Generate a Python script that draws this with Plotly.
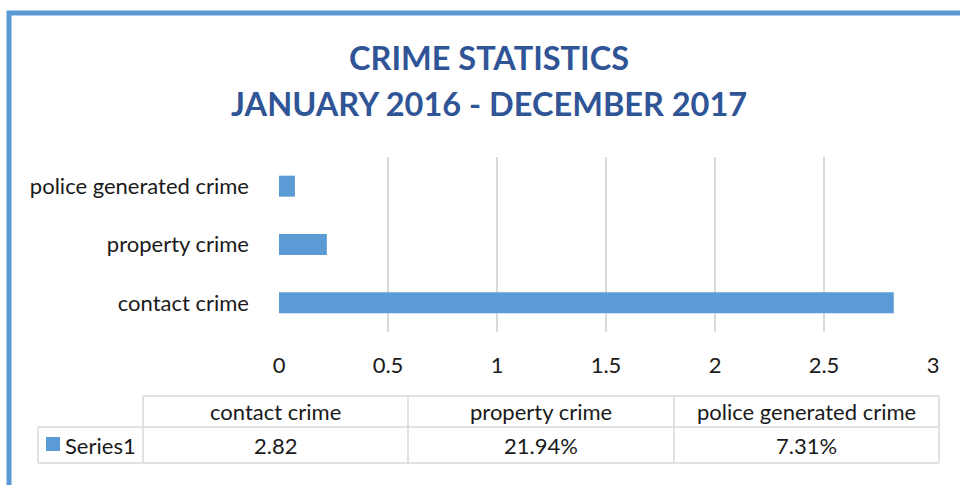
import plotly.graph_objects as go

# ---- data ----
categories = ["contact crime", "property crime", "police generated crime"]
values = [2.82, 0.2194, 0.0731]
value_labels = ["2.82", "21.94%", "7.31%"]
series_name = "Series1"
x_ticks = [0, 0.5, 1, 1.5, 2, 2.5, 3]
x_tick_labels = ["0", "0.5", "1", "1.5", "2", "2.5", "3"]
title_lines = ["CRIME STATISTICS", "JANUARY 2016 - DECEMBER 2017"]

BLUE = "#5B9BD5"
TITLE_BLUE = "#2F5597"
GRID = "#D9D9D9"
TXT = "#1a1a1a"
FONT = "Lato"
FS = 22

W, H = 960, 485
L, R, T, B = 279, 933, 157, 332  # plot area in pixels


def px(x):
    return (x - L) / (R - L)


def py(y):
    return (B - y) / (B - T)


fig = go.Figure(go.Bar(
    y=categories, x=values, orientation="h", name=series_name,
    marker=dict(color=BLUE, line=dict(width=0)),
))

shapes = []
annotations = []

# outer border (top + left)
shapes.append(dict(type="path", xref="paper", yref="paper",
                   path=f"M {px(9)},{py(500)} L {px(9)},{py(13)} L {px(970)},{py(13)}",
                   line=dict(color=BLUE, width=5)))

# title
for i, (line, yc) in enumerate(zip(title_lines, [57, 103])):
    annotations.append(dict(text=f"<b>{line}</b>", xref="paper", yref="paper",
                            x=px(489), y=py(yc), xanchor="center", yanchor="middle",
                            showarrow=False, font=dict(family=FONT, size=32.5, color=TITLE_BLUE)))

# data table
col_edges = [143, 408, 674, 939]
row_top, row_mid, row_bot = 396, 427, 463
left_edge = 38
line_style = dict(color=GRID, width=1.5)
# horizontal lines
shapes.append(dict(type="line", xref="paper", yref="paper", x0=px(col_edges[0]), x1=px(col_edges[-1]),
                   y0=py(row_top), y1=py(row_top), line=line_style))
for yy in (row_mid, row_bot):
    shapes.append(dict(type="line", xref="paper", yref="paper", x0=px(left_edge), x1=px(col_edges[-1]),
                       y0=py(yy), y1=py(yy), line=line_style))
# vertical lines
shapes.append(dict(type="line", xref="paper", yref="paper", x0=px(left_edge), x1=px(left_edge),
                   y0=py(row_mid), y1=py(row_bot), line=line_style))
for xx in col_edges:
    shapes.append(dict(type="line", xref="paper", yref="paper", x0=px(xx), x1=px(xx),
                       y0=py(row_top), y1=py(row_bot), line=line_style))
# legend key
shapes.append(dict(type="rect", xref="paper", yref="paper", x0=px(46), x1=px(60),
                   y0=py(451), y1=py(437), fillcolor=BLUE, line=dict(width=0)))
annotations.append(dict(text=series_name, xref="paper", yref="paper", x=px(63), y=py(445),
                        xanchor="left", yanchor="middle", showarrow=False,
                        font=dict(family=FONT, size=FS, color=TXT)))
for i, (cat, lab) in enumerate(zip(categories, value_labels)):
    xc = (col_edges[i] + col_edges[i + 1]) / 2
    annotations.append(dict(text=cat, xref="paper", yref="paper", x=px(xc), y=py(411),
                            xanchor="center", yanchor="middle", showarrow=False,
                            font=dict(family=FONT, size=FS, color=TXT)))
    annotations.append(dict(text=lab, xref="paper", yref="paper", x=px(xc), y=py(445),
                            xanchor="center", yanchor="middle", showarrow=False,
                            font=dict(family=FONT, size=FS, color=TXT)))

fig.update_layout(
    width=W, height=H,
    margin=dict(l=L, r=W - R, t=T, b=H - B, pad=0),
    paper_bgcolor="white", plot_bgcolor="white",
    showlegend=False,
    bargap=0.64,
    font=dict(family=FONT, size=FS, color=TXT),
    shapes=shapes, annotations=annotations,
    xaxis=dict(range=[0, 3], tickvals=x_ticks, ticktext=x_tick_labels,
               showgrid=True, gridcolor=GRID, gridwidth=1.5, zeroline=False,
               showline=False, ticks="", ticklabelstandoff=18,
               tickfont=dict(family=FONT, size=FS, color=TXT), fixedrange=True),
    yaxis=dict(range=[-0.5, 2.5], showgrid=False, zeroline=False, showline=False,
               ticks="", ticklabelstandoff=29, categoryorder="array", categoryarray=categories,
               tickfont=dict(family=FONT, size=FS, color=TXT), fixedrange=True),
)

fig.write_html("out.html")
